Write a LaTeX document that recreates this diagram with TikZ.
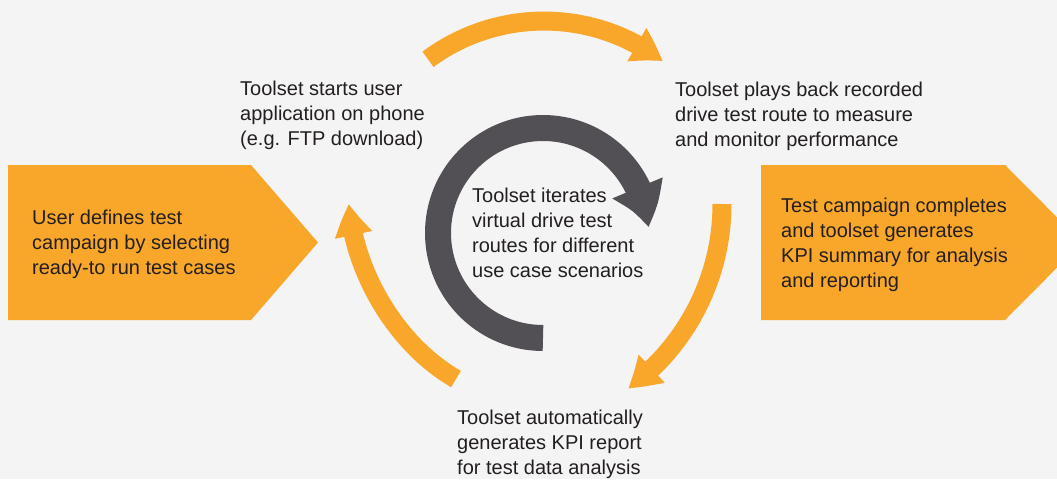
\documentclass[tikz,border=0pt]{standalone}
\usepackage{fontspec}
\setmainfont{Liberation Sans}
\usetikzlibrary{arrows.meta,bending}

\definecolor{pagegray}{RGB}{244,244,244}
\definecolor{steporange}{RGB}{249,167,42}
\definecolor{loopgray}{RGB}{82,79,85}
\definecolor{labeltext}{RGB}{35,31,32}

\begin{document}
\begin{tikzpicture}
  [x=1pt,y=1pt,
   every node/.style={inner sep=0pt,anchor=base west,align=left,text=labeltext,
     font=\fontsize{20}{25}\selectfont},
   banner/.style={fill=steporange},
   cyclearrow/.style={steporange,line width=19pt,-{Triangle[width=36pt,length=31pt,bend]}},
   looparrow/.style={loopgray,line width=26pt,-{Triangle[width=51pt,length=42pt,bend]}}]
  \fill[pagegray] (0,0) rectangle (1057,-479);
  \clip (0,0) rectangle (1057,-479);

  % start and end banners
  \fill[banner] (8,-165) -- (251,-165) -- (318,-242.5) -- (251,-320) -- (8,-320) -- cycle;
  \fill[banner] (761,-165) -- (1005,-165) -- (1082,-242.5) -- (1005,-320) -- (761,-320) -- cycle;

  % outer cycle
  \coordinate (t1) at (428,-59.3);
  \coordinate (t2) at (722,-204);
  \coordinate (t3) at (456,-379);
  \coordinate (h3) at (349,-204);
  \draw[cyclearrow] (t1) arc[start angle=126.5,end angle=52.5,radius=195];
  \draw[cyclearrow] (t2) arc[start angle=0,end angle=-54,radius=228];
  \draw[cyclearrow] (t3) .. controls (397,-345.3) and (353.4,-272) .. (h3);

  % inner loop
  \coordinate (t0) at (543,-338);
  \draw[looparrow] (t0) arc[start angle=270,end angle=3,radius=105];

  % base anchor sits on the last line
  \node (define) at (32,-274) {User defines test\\campaign by selecting\\ready-to run test cases};
  \node (start) at (240,-145) {Toolset starts user\\application on phone\\(e.g. FTP download)};
  \node (play) at (675,-146) {Toolset plays back recorded\\drive test route to measure\\and monitor performance};
  \node (iterate) at (472,-277) {Toolset iterates\\virtual drive test\\routes for different\\use case scenarios};
  \node (report) at (457,-474) {Toolset automatically\\generates KPI report\\for test data analysis};
  \node (complete) at (781,-287) {Test campaign completes\\and toolset generates\\KPI summary for analysis\\and reporting};
\end{tikzpicture}
\end{document}
